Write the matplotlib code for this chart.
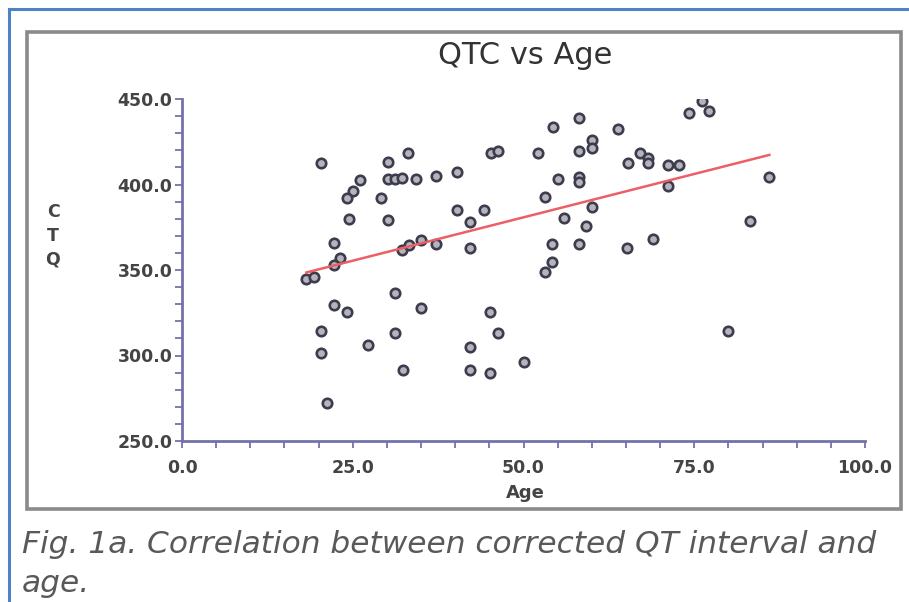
"""
QTC vs Age scatter with linear fit
"""
import matplotlib
matplotlib.use('Agg')
import matplotlib.pyplot as plt
import numpy as np
from matplotlib.patches import Rectangle
from matplotlib.lines import Line2D
from matplotlib.ticker import MultipleLocator, FormatStrFormatter

# values
age = [20.3, 30.2, 33.1, 26.1, 25.1, 24.1, 30.2, 31.2, 32.2, 34.2,
       29.2, 24.4, 30.2, 22.2, 23.2, 22.2, 32.2, 33.3, 35.0, 37.2,
       18.2, 19.3, 31.2, 22.2, 24.2, 35.0, 20.3, 31.2, 27.3, 20.3,
       32.3, 21.3, 37.2, 40.3, 45.3, 46.3, 52.1, 54.3, 58.1, 58.1,
       60.1, 60.1, 63.9, 67.0, 65.3, 68.2, 68.2, 55.0, 58.1, 58.1,
       53.1, 60.1, 55.9, 59.1, 40.3, 44.2, 42.2, 42.2, 54.2, 58.1,
       65.1, 54.2, 53.1, 68.9, 45.1, 46.3, 42.2, 42.2, 45.1, 50.1,
       74.2, 76.1, 77.1, 71.1, 72.8, 71.2, 86.0, 83.1, 80.0]
qtc = [412.6, 413.0, 418.4, 402.6, 396.0, 392.0, 403.0, 403.0, 404.0, 403.0,
       392.0, 380.0, 379.0, 366.0, 357.0, 353.0, 361.7, 364.6, 367.5, 365.2,
       344.7, 346.0, 336.5, 329.5, 325.4, 327.8, 314.3, 313.0, 306.0, 301.5,
       291.5, 272.2, 405.0, 407.3, 418.4, 419.6, 418.4, 433.6, 438.9, 419.6,
       426.0, 421.3, 432.5, 418.4, 412.6, 415.5, 412.3, 403.0, 404.4, 401.5,
       392.7, 386.8, 380.4, 375.7, 385.0, 385.0, 378.0, 362.9, 365.2, 365.2,
       362.9, 354.7, 348.8, 368.0, 325.4, 313.0, 305.0, 291.5, 289.8, 296.2,
       441.8, 448.8, 443.0, 411.4, 411.4, 399.1, 404.4, 378.7, 314.3]

title = 'QTC vs Age'
x_label = 'Age'
y_label = 'C\nT\nQ'
caption_1 = 'Fig. 1a. Correlation between corrected QT interval and'
caption_2 = 'age.'

W, H = 909, 602


def fx(px):
    return px / W


def fy(py):
    return 1 - py / H


fig = plt.figure(figsize=(W / 100, H / 100), dpi=100)

# outer blue border (top and left visible)
fig.add_artist(Line2D([fx(9), 1.0], [fy(9), fy(9)], color='#4f81c7', lw=2.2))
fig.add_artist(Line2D([fx(9), fx(9)], [fy(9), 0.0], color='#4f81c7', lw=2.2))
# grey frame around the chart
fig.add_artist(Rectangle((fx(27), fy(509)), fx(901) - fx(27), fy(32) - fy(509),
                         fill=False, ec='#8a8a8a', lw=2.6))

ax = fig.add_axes([fx(182), fy(441), fx(865) - fx(182), fy(99) - fy(441)])
axis_col = '#7272aa'

ax.plot(age, qtc, 'o', ms=6.8, mfc='#b4b4bd', mec='#3c3c4c', mew=1.9, zorder=3)

# least squares line over the observed age range
slope, icpt = np.polyfit(age, qtc, 1)
xs = np.array([min(age), max(age)])
ax.plot(xs, icpt + slope * xs, color='#ec5f66', lw=1.8, zorder=4)

ax.set_xlim(0, 100)
ax.set_ylim(250, 450)
ax.xaxis.set_major_locator(MultipleLocator(25))
ax.xaxis.set_minor_locator(MultipleLocator(5))
ax.yaxis.set_major_locator(MultipleLocator(50))
ax.yaxis.set_minor_locator(MultipleLocator(10))
ax.xaxis.set_major_formatter(FormatStrFormatter('%.1f'))
ax.yaxis.set_major_formatter(FormatStrFormatter('%.1f'))

for s in ['top', 'right']:
    ax.spines[s].set_visible(False)
for s in ['left', 'bottom']:
    ax.spines[s].set_color(axis_col)
    ax.spines[s].set_linewidth(2)

ax.tick_params(which='both', direction='out', length=5, width=1.3, color=axis_col)
ax.tick_params(axis='y', pad=2, labelsize=12.5, labelcolor='#444444')
ax.tick_params(axis='x', pad=8, labelsize=12.5, labelcolor='#444444')
for lab in ax.get_xticklabels() + ax.get_yticklabels():
    lab.set_fontweight('bold')

fig.text(fx(525), fy(55), title, ha='center', va='center',
         fontsize=22, color='#333333')
fig.text(fx(525), fy(493), x_label, ha='center', va='center',
         fontsize=13, fontweight='bold', color='#444444')
fig.text(fx(53), fy(236), y_label, ha='center', va='center',
         fontsize=12.5, fontweight='bold', color='#444444', linespacing=1.4)

fig.text(fx(22), fy(553), caption_1, ha='left', va='baseline',
         fontsize=22.5, style='italic', color='#595959')
fig.text(fx(22), fy(592), caption_2, ha='left', va='baseline',
         fontsize=22.5, style='italic', color='#595959')

fig.savefig('out.png', dpi=100)
